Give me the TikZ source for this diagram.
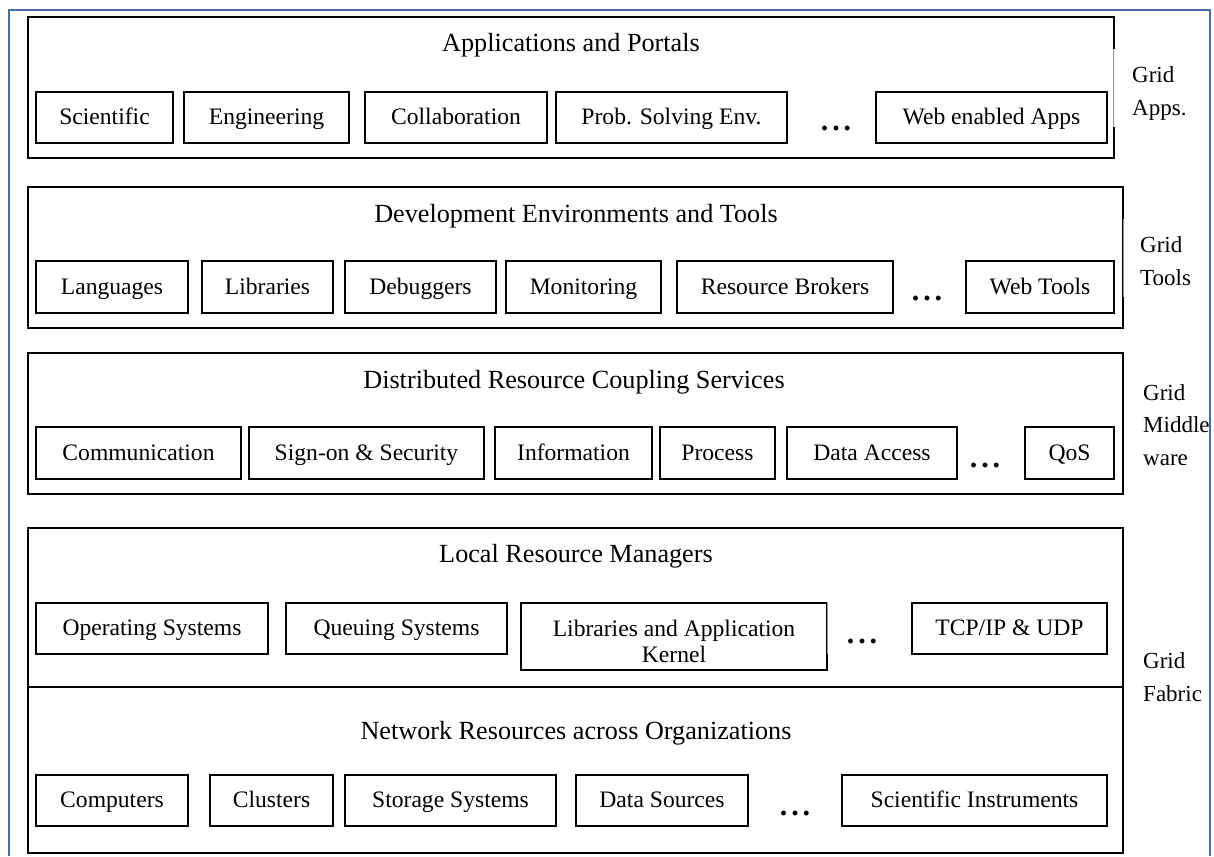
\documentclass[tikz,border=0pt]{standalone}
\usepackage{fontspec}
\setmainfont{Liberation Serif}
\usetikzlibrary{calc}
\definecolor{frameblue}{RGB}{70,110,160}
\definecolor{edgegray}{RGB}{150,150,150}
\tikzset{
  bx/.style={draw=black, line width=1.5pt, inner sep=0pt, font=\fontsize{23.6}{26}\selectfont,
             align=center, text height=17pt, text depth=3pt},
  layer/.style={draw=black, line width=1.5pt, inner sep=0pt},
  ttl/.style={font=\fontsize{26.2}{30}\selectfont, inner sep=0pt, anchor=base},
  side/.style={font=\fontsize{23}{32.5}\selectfont, align=left, anchor=base west, inner sep=0pt},
  dotsrow/.style={font=\fontsize{30}{32}\selectfont\bfseries, inner sep=0pt, anchor=base},
  lightedge/.style={edgegray, line width=0.8pt},
  eraser/.style={white, line width=2.2pt},
}
\newcommand\bx[6]{\node[bx, minimum width={(#4-#2)*1pt}, minimum height={(#5-#3)*1pt}] (#1) at ({(#2+#4)/2},{(#3+#5)/2}) {#6};}
\newcommand\lay[5]{\node[layer, minimum width={(#4-#2)*1pt}, minimum height={(#5-#3)*1pt}] (#1) at ({(#2+#4)/2},{(#3+#5)/2}) {};}
\newcommand\tdots{.\hspace{4pt}.\hspace{4pt}.}
\begin{document}
\begin{tikzpicture}[x=1pt,y=-1pt]
\useasboundingbox (0,0) rectangle (1214,856);
% outer frame
\coordinate (fbl) at (9,856);
\coordinate (ftl) at (9,10);
\coordinate (ftr) at (1210,10);
\coordinate (fbr) at (1210,856);
\draw[frameblue, line width=1.5pt] (fbl) -- (ftl) -- (ftr) -- (fbr);

% layers
\lay{L1}{28}{17}{1114}{158}
\lay{L2}{28}{187}{1123}{328}
\lay{L3}{28}{353}{1123}{494}
\lay{L4}{28}{528}{1123}{853}
\coordinate (divl) at (28,687);
\coordinate (divr) at (1123,687);
\draw[line width=1.5pt] (divl) -- (divr);

% light segments on right edges
\draw[eraser] ($(L1.north east)+(0,33)$) -- ($(L1.north east)+(0,111)$);
\draw[lightedge] ($(L1.north east)+(-1,33)$) -- ($(L1.north east)+(-1,111)$);
\draw[eraser] ($(L2.north east)+(0,33)$) -- ($(L2.north east)+(0,111)$);
\draw[lightedge] ($(L2.north east)+(0,33)$) -- ($(L2.north east)+(0,111)$);

% titles
\node[ttl] (t1) at (571,51.5) {Applications and Portals};
\node[ttl] (t2) at (576,222) {Development Environments and Tools};
\node[ttl] (t3) at (574,388) {Distributed Resource Coupling Services};
\node[ttl] (t4) at (576,562) {Local Resource Managers};
\node[ttl] (t5) at (576,739) {Network Resources across Organizations};

% row 1
\bx{sci}{36}{92}{173}{143}{Scientific}
\bx{eng}{184}{92}{349}{143}{Engineering}
\bx{col}{365}{92}{547}{143}{Collaboration}
\bx{pse}{556}{92}{787}{143}{Prob. Solving Env.}
\node[dotsrow] (d1) at (836,130) {\tdots};
\bx{web}{876}{92}{1107}{143}{Web enabled Apps}

% row 2
\bx{lan}{36}{261}{188}{313}{Languages}
\bx{lib}{202}{261}{333}{313}{Libraries}
\bx{deb}{345}{261}{496}{313}{Debuggers}
\bx{mon}{506}{261}{661}{313}{Monitoring}
\bx{rb}{677}{261}{893}{313}{Resource Brokers}
\node[dotsrow] (d2) at (927,300) {\tdots};
\bx{wt}{966}{261}{1114}{313}{Web Tools}

% row 3
\bx{com}{36}{427}{241}{479}{Communication}
\bx{sos}{249}{427}{484}{479}{Sign-on \& Security}
\bx{inf}{495}{427}{652}{479}{Information}
\bx{pro}{660}{427}{775}{479}{Process}
\bx{da}{787}{427}{957}{479}{Data Access}
\node[dotsrow] (d3) at (985,467) {\tdots};
\bx{qos}{1025}{427}{1114}{479}{QoS}

% row 4
\bx{os}{36}{603}{268}{654}{Operating Systems}
\bx{qs}{286}{603}{507}{654}{Queuing Systems}
\node[bx, text height=, text depth=, minimum width=306pt, minimum height=67pt] (lak) at (674,636.5)
  {\rule{0pt}{27pt}Libraries and Application\\[0pt]Kernel};
\node[dotsrow] (d4) at (862,643) {\tdots};
\bx{tcp}{912}{603}{1107}{654}{TCP/IP \& UDP}
\draw[eraser] ($(lak.north east)+(0,1)$) -- ($(lak.north east)+(0,52)$);
\draw[lightedge] ($(lak.north east)+(0,0)$) -- ($(lak.north east)+(0,52)$);

% row 5
\bx{cpu}{36}{775}{188}{826}{Computers}
\bx{clu}{210}{775}{333}{826}{Clusters}
\bx{sto}{345}{775}{556}{826}{Storage Systems}
\bx{dsr}{576}{775}{748}{826}{Data Sources}
\node[dotsrow] (d5) at (795,815) {\tdots};
\bx{ins}{842}{775}{1107}{826}{Scientific Instruments}

% side labels (anchor = baseline of last line)
\node[side] (s1) at (1132,115) {Grid\\Apps.};
\node[side] (s2) at (1140,285) {Grid\\Tools};
\node[side] (s3) at (1143,465) {Grid\\Middle\\ware};
\node[side] (s4) at (1143,701) {Grid\\Fabric};
\end{tikzpicture}
\end{document}
